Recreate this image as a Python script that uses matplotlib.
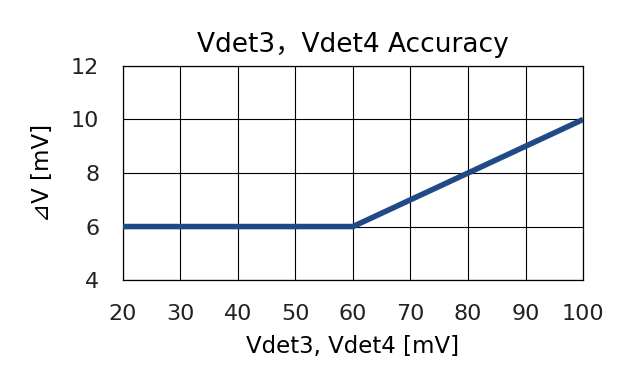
import matplotlib
matplotlib.use("Agg")
import matplotlib.pyplot as plt

plt.rcParams['font.family'] = ['DejaVu Sans', 'Noto Sans CJK JP']

# data
vdet = [20, 60, 100]
delta_v = [6, 6, 10]
xticks = [20, 30, 40, 50, 60, 70, 80, 90, 100]
yticks = [4, 6, 8, 10, 12]

fig = plt.figure(figsize=(6.4, 3.79), dpi=100)
ax = fig.add_axes([0.192, 0.261, 0.719, 0.565])

ax.plot(vdet, delta_v, color="#1F4A86", linewidth=4, solid_capstyle="butt", zorder=3)

ax.set_xlim(20, 100)
ax.set_ylim(4, 12)
ax.set_xticks(xticks)
ax.set_yticks(yticks)
ax.grid(True, color="black", linewidth=0.8)
ax.tick_params(length=0, labelsize=16, colors="#222222")
ax.tick_params(axis="x", pad=17)
ax.tick_params(axis="y", pad=17)
for s in ax.spines.values():
    s.set_linewidth(0.9)

ax.set_title("Vdet3，Vdet4 Accuracy", fontsize=19, pad=10)
ax.set_xlabel("Vdet3, Vdet4 [mV]", fontsize=16.5, labelpad=8)
ax.set_ylabel("⊿V [mV]", fontsize=16.5, labelpad=12)

fig.savefig("out.png", dpi=100)
